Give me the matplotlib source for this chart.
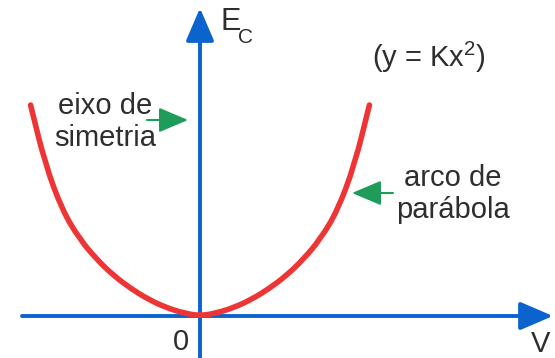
import numpy as np
import matplotlib
matplotlib.use("Agg")
from matplotlib import pyplot as plt
from matplotlib.path import Path
from matplotlib.patches import PathPatch

plt.rcParams['font.family'] = ['Liberation Sans', 'DejaVu Sans']
plt.rcParams['mathtext.fontset'] = 'custom'
plt.rcParams['mathtext.rm'] = 'Liberation Sans'
plt.rcParams['mathtext.default'] = 'regular'

# kinetic energy vs speed, right half of the arc (mirrored for the left half)
v_half = [0.0, 0.1, 0.2, 0.3, 0.4, 0.5, 0.6, 0.7, 0.8, 0.9, 0.985]
ec_half = [0.0, 0.015, 0.041, 0.079, 0.129, 0.19, 0.268, 0.365, 0.5, 0.72, 1.0]

v = np.concatenate([-np.array(v_half[::-1]), np.array(v_half[1:])])
ec = np.concatenate([np.array(ec_half[::-1]), np.array(ec_half[1:])])

axis_blue = '#0b63ce'
curve_red = '#ee3535'
note_green = '#1e9c5a'
text_gray = '#2e2e2e'

# pixel -> data helper (origin at 200,316; 172 px per unit in v, 211 px per unit in Ec)
def px(x, y):
    return ((x - 200) / 172.0, (316 - y) / 211.0)

def smooth_path(xs, ys):
    # quadratic b-spline style path: the points act as control points
    pts = list(zip(xs, ys))
    verts = [pts[0], ((pts[0][0] + pts[1][0]) / 2, (pts[0][1] + pts[1][1]) / 2)]
    codes = [Path.MOVETO, Path.LINETO]
    for i in range(1, len(pts) - 1):
        mid = ((pts[i][0] + pts[i + 1][0]) / 2, (pts[i][1] + pts[i + 1][1]) / 2)
        verts += [pts[i], mid]
        codes += [Path.CURVE3, Path.CURVE3]
    verts.append(pts[-1])
    codes.append(Path.LINETO)
    return Path(verts, codes)

fig = plt.figure(figsize=(5.55, 3.58), dpi=100)
ax = fig.add_axes([0, 0, 1, 1])
x0, y1 = px(0, 0)
x1, y0 = px(555, 358)
ax.set_xlim(x0, x1)
ax.set_ylim(y0, y1)
ax.axis('off')

# axes with arrows
ax.annotate('', xy=px(553, 316), xytext=px(22, 316),
            arrowprops=dict(arrowstyle='-|>,head_length=1.4,head_width=0.6',
                            mutation_scale=14.4, lw=2.8, color=axis_blue,
                            shrinkA=0, shrinkB=0))
ax.annotate('', xy=px(200, 8), xytext=px(200, 360),
            arrowprops=dict(arrowstyle='-|>,head_length=1.4,head_width=0.6',
                            mutation_scale=14.4, lw=2.8, color=axis_blue,
                            shrinkA=0, shrinkB=0))

# parabola
ax.add_patch(PathPatch(smooth_path(v, ec), fill=False, edgecolor=curve_red,
                       lw=4, capstyle='round', joinstyle='round', zorder=3))

# labels
ax.text(*px(220, 30), 'E', fontsize=22, color=text_gray, va='baseline', ha='left')
ax.text(*px(238, 43), 'C', fontsize=15, color=text_gray, va='baseline', ha='left')
ax.text(*px(372, 67), '(y = Kx$^2$)', fontsize=21, color=text_gray, va='baseline', ha='left')
ax.text(*px(105, 114), 'eixo de', fontsize=21, color=text_gray, va='baseline', ha='center')
ax.text(*px(105, 146), 'simetria', fontsize=21, color=text_gray, va='baseline', ha='center')
ax.text(*px(453, 186), 'arco de', fontsize=21, color=text_gray, va='baseline', ha='center')
ax.text(*px(453, 218), 'parábola', fontsize=21, color=text_gray, va='baseline', ha='center')
ax.text(*px(181, 350), '0', fontsize=21, color=text_gray, va='baseline', ha='center')
ax.text(*px(541, 352), 'V', fontsize=21, color=text_gray, va='baseline', ha='center')

# pointer arrows
ax.annotate('', xy=px(188, 120), xytext=px(147, 120),
            arrowprops=dict(arrowstyle='-|>,head_length=1.3,head_width=0.55',
                            mutation_scale=14, lw=1.5, color=note_green,
                            shrinkA=0, shrinkB=0))
ax.annotate('', xy=px(352, 193), xytext=px(393, 193),
            arrowprops=dict(arrowstyle='-|>,head_length=1.3,head_width=0.55',
                            mutation_scale=14, lw=1.5, color=note_green,
                            shrinkA=0, shrinkB=0))

fig.savefig('out.png', dpi=100)
